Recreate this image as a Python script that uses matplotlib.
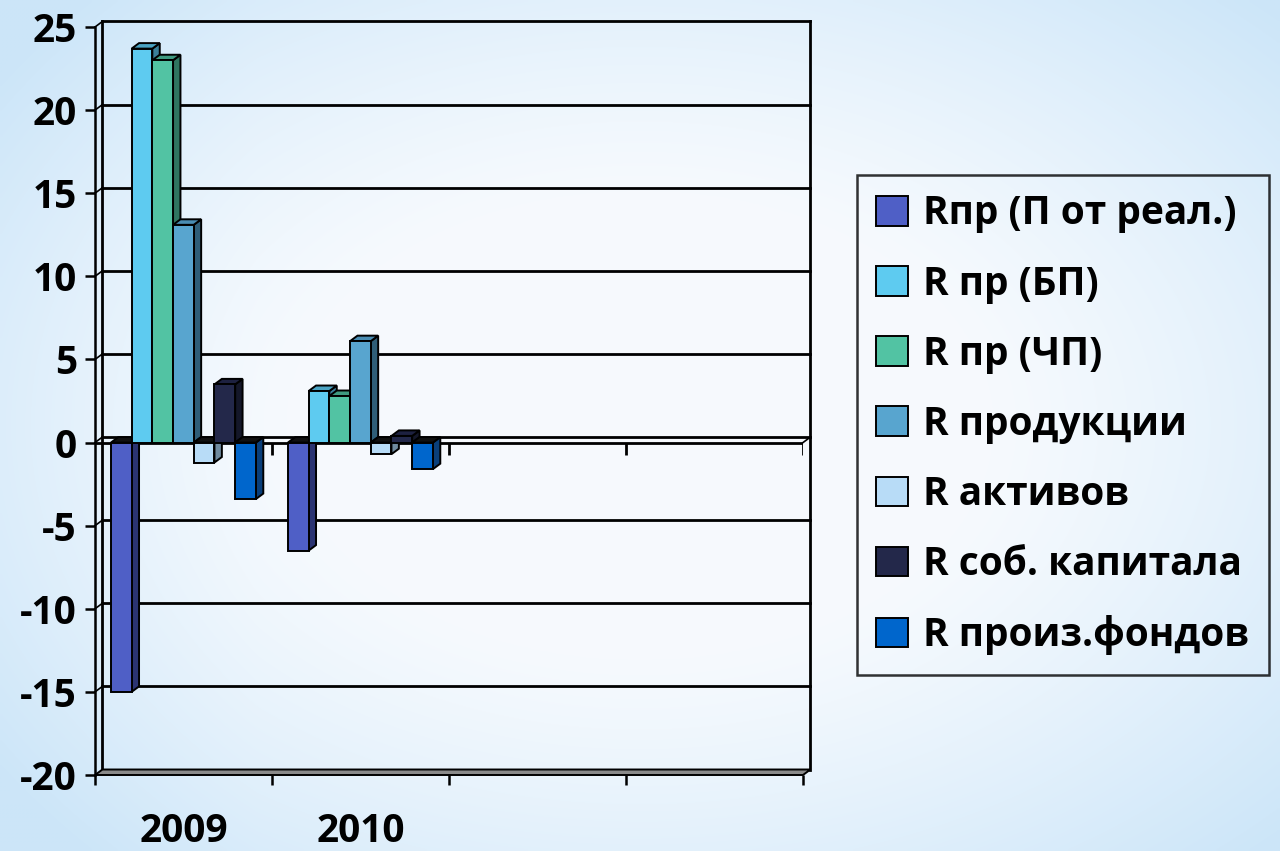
import numpy as np
import matplotlib
matplotlib.use("Agg")
import matplotlib.pyplot as plt
from matplotlib.patches import Patch
from matplotlib.font_manager import FontProperties

# данные
years = ['2009', '2010']
n_slots = 4  # ось категорий с двумя пустыми позициями, как в оригинале
labels = ['Rпр (П от реал.)', 'R пр (БП)', 'R пр (ЧП)', 'R продукции',
          'R активов', 'R соб. капитала', 'R произ.фондов']
r_pr_real = [-15.0, -6.5]
r_pr_bp = [23.7, 3.1]
r_pr_chp = [23.0, 2.8]
r_prod = [13.1, 6.1]
r_akt = [-1.2, -0.7]
r_sk = [3.5, 0.4]
r_pf = [-3.4, -1.6]
series = [r_pr_real, r_pr_bp, r_pr_chp, r_prod, r_akt, r_sk, r_pf]

yticks = list(range(-20, 30, 5))

# цвета: лицевая грань, боковая, верхняя
front = ['#4f5fc6', '#5ecbf0', '#52c3a3', '#58a5cf', '#b8dcf7', '#23284a', '#0066cc']
side = ['#2b3472', '#3a7f99', '#2f7560', '#2f5e78', '#6f8a9e', '#141729', '#0a3f7a']
top = ['#3b478f', '#4aa3c3', '#3f9a80', '#4a8db3', '#93b3cc', '#1d2140', '#0b55a8']

font = 'Open Sans'
W, H = 1280, 851

fig = plt.figure(figsize=(12.8, 8.51), dpi=100)

# фон: голубое свечение по краям, почти белый центр
bg = fig.add_axes([0, 0, 1, 1], zorder=-10)
gx, gy = np.meshgrid(np.linspace(-1, 1, 320), np.linspace(-1, 1, 213))
r = np.sqrt(gx ** 2 + gy ** 2)
t = np.clip((r - 0.55) / 0.85, 0, 1) ** 1.2
t = t + 0.35 * np.clip(-gx - 0.6, 0, None)  # левый край чуть голубее
t = np.clip(t, 0, 1)
c0 = np.array([0.965, 0.980, 0.995])
c1 = np.array([0.80, 0.90, 0.975])
img = c0[None, None, :] * (1 - t[..., None]) + c1[None, None, :] * t[..., None]
bg.imshow(img, aspect='auto', extent=[0, 1, 0, 1], interpolation='bilinear')
bg.set_axis_off()

ax = fig.add_axes([95 / W, 76 / H, 708 / W, 748 / H])
ax.set_xlim(0, n_slots)
ax.set_ylim(-20, 25)
ax.patch.set_visible(False)
for s in ['top', 'right', 'bottom']:
    ax.spines[s].set_visible(False)
ax.spines['left'].set_linewidth(1.8)

# глубина "3D" в единицах данных
DX = 7.4 * n_slots / 708
DY = 5.5 * 45 / 748
lw = 2.0

# задняя стенка и сетка
for y in yticks[1:]:
    ax.plot([DX, n_slots + DX], [y + DY, y + DY], color='black', lw=lw, clip_on=False, zorder=1)
    ax.plot([0, DX], [y, y + DY], color='black', lw=1.2, clip_on=False, zorder=1)
ax.plot([DX, DX], [-20 + DY, 25 + DY], color='black', lw=lw, clip_on=False, zorder=1)
ax.plot([n_slots + DX, n_slots + DX], [-20 + DY, 25 + DY], color='black', lw=lw, clip_on=False, zorder=1)

# пол
ax.fill([0, n_slots, n_slots + DX, DX], [-20, -20, -20 + DY, -20 + DY],
        facecolor='#8a8a8a', edgecolor='black', lw=1.4, clip_on=False, zorder=1.5)

# ось категорий на нуле
ax.plot([0, n_slots], [0, 0], color='black', lw=lw, zorder=1.6)
ax.plot([n_slots, n_slots + DX], [0, DY], color='black', lw=1.2, zorder=1.6, clip_on=False)
ax.vlines(range(1, n_slots + 1), -0.75, 0, color='black', lw=lw, zorder=1.6)

# столбцы
w = 0.117
start = 0.09
for j in range(len(years)):
    for i, vals in enumerate(series):
        v = vals[j]
        x0 = j + start + i * w
        x1 = x0 + w
        z = 3 + i * 0.1
        ax.bar(x0, v, width=w, align='edge', color=front[i], edgecolor='black',
               lw=1.4, zorder=z + 0.02)
        ax.fill([x1, x1, x1 + DX, x1 + DX], [min(v, 0), max(v, 0), max(v, 0) + DY, min(v, 0) + DY],
                facecolor=side[i], edgecolor='black', lw=1.4, zorder=z, clip_on=False)
        ytop = max(v, 0)
        tc = top[i] if v > 0 else '#101010'
        ax.fill([x0, x1, x1 + DX, x0 + DX], [ytop, ytop, ytop + DY, ytop + DY],
                facecolor=tc, edgecolor='black', lw=1.4, zorder=z + 0.01, clip_on=False)

# подписи осей
tick_fp = FontProperties(family=font, weight='bold', size=28)
ax.set_yticks(yticks)
ax.set_yticklabels([str(v) for v in yticks], fontproperties=tick_fp)
ax.tick_params(axis='y', length=7, width=1.8, pad=6, direction='out')
ax.set_xticks(range(0, n_slots + 1))
ax.set_xticklabels([])
ax.tick_params(axis='x', which='major', length=7, width=1.8, direction='out')
ax.set_xticks([j + 0.5 for j in range(len(years))], minor=True)
ax.set_xticklabels(years, minor=True, fontproperties=tick_fp)
ax.tick_params(axis='x', which='minor', length=0, pad=27)

# легенда
handles = [Patch(facecolor=c, edgecolor='black', lw=1.4) for c in front]
leg = fig.legend(handles, labels, loc='upper left',
                 bbox_to_anchor=(857 / W, 1 - 175 / H),
                 prop=FontProperties(family=font, weight='bold', size=28),
                 frameon=True, fancybox=False, edgecolor='black', facecolor='none',
                 borderaxespad=0, handlelength=0.8, handleheight=0.8,
                 handletextpad=0.4, labelspacing=0.8, borderpad=0.5)
leg.get_frame().set_linewidth(1.8)

fig.savefig('out.png', dpi=100)
